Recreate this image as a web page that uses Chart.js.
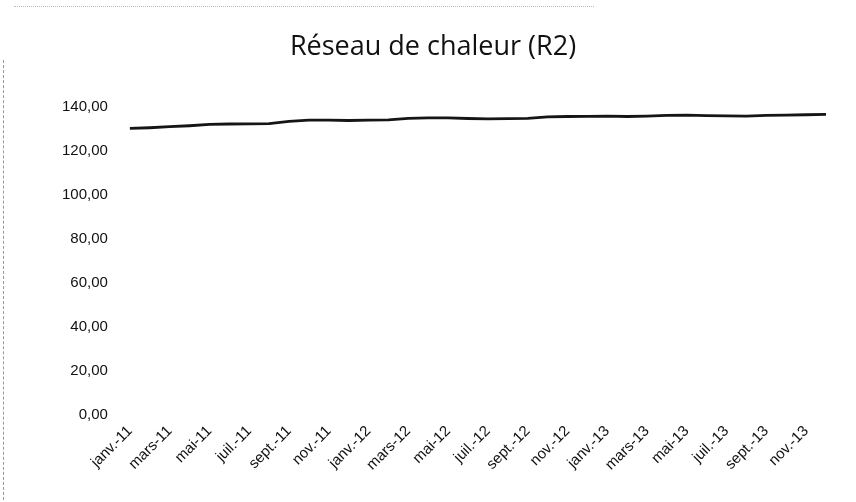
<!DOCTYPE html>
<html>
<head>
<meta charset="utf-8">
<script src="https://cdn.jsdelivr.net/npm/chart.js@4.4.1/dist/chart.umd.min.js"></script>
<style>
  html, body { margin: 0; padding: 0; background: #fff; }
  #wrap { position: relative; width: 856px; height: 502px; }
  #topdots { position: absolute; left: 14px; top: 6px; width: 580px; border-top: 1px dotted #bbb; }
  #leftdash { position: absolute; left: 3px; top: 60px; height: 440px; border-left: 1px dashed #999; }
  canvas { position: absolute; left: 0; top: 0; }
</style>
</head>
<body>
<div id="wrap">
  <canvas id="c" width="856" height="502"></canvas>
  <div id="topdots"></div>
  <div id="leftdash"></div>
</div>
<script>
const title = "Réseau de chaleur (R2)";
const months = ["janv.", "févr.", "mars", "avr.", "mai", "juin", "juil.", "août", "sept.", "oct.", "nov.", "déc."];
const years = ["11", "12", "13"];
const categories = [];
for (const y of years) for (const m of months) categories.push(m + "-" + y);

const values = [
  130.0, 130.3, 130.8, 131.2, 131.8, 132.0, 132.1, 132.2, 133.2, 133.8, 133.8, 133.6,
  133.8, 133.9, 134.6, 134.8, 134.8, 134.5, 134.3, 134.4, 134.6, 135.2, 135.4, 135.5,
  135.6, 135.4, 135.6, 135.9, 136.0, 135.8, 135.7, 135.6, 135.9, 136.0, 136.2, 136.4
];
const yTicks = [0, 20, 40, 60, 80, 100, 120, 140];

new Chart(document.getElementById('c'), {
  type: 'line',
  data: {
    labels: categories,
    datasets: [{
      data: values,
      borderColor: '#151515',
      borderWidth: 2.8,
      pointRadius: 0,
      tension: 0,
      fill: false
    }]
  },
  options: {
    responsive: false,
    animation: false,
    layout: { padding: { left: 40, right: 30, top: 0, bottom: 20 } },
    plugins: {
      legend: { display: false },
      tooltip: { enabled: false },
      title: {
        display: true,
        text: title,
        color: '#111',
        font: { family: 'Open Sans', size: 27, weight: 'normal' },
        padding: { top: 31, bottom: 43 }
      }
    },
    scales: {
      x: {
        type: 'category',
        offset: false,
        grid: { display: false, drawTicks: false },
        border: { display: false },
        ticks: {
          autoSkip: false,
          maxRotation: 45,
          minRotation: 45,
          padding: 8,
          color: '#111',
          font: { family: 'Liberation Sans', size: 15 },
          callback: function(v, i) { return i % 2 === 0 ? categories[i] : ''; }
        }
      },
      y: {
        min: 0,
        max: 140,
        grid: { display: false, drawTicks: false },
        border: { display: false },
        afterBuildTicks: function(axis) { axis.ticks = yTicks.map(v => ({ value: v })); },
        ticks: {
          padding: 22,
          color: '#111',
          font: { family: 'Liberation Sans', size: 15 },
          callback: function(v) { return v.toFixed(2).replace('.', ','); }
        }
      }
    }
  }
});
</script>
</body>
</html>
